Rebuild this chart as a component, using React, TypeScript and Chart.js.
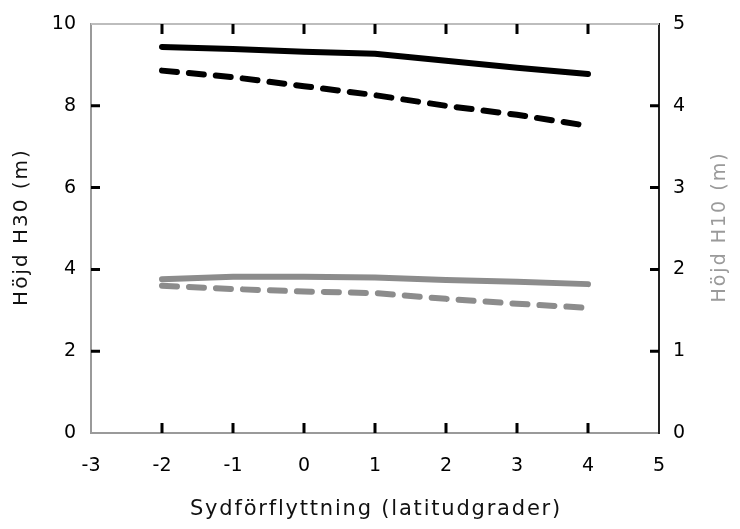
import React, { useEffect, useRef } from "react";
import { Chart, registerables } from "chart.js";

Chart.register(...registerables);

const latitudes = [-2, -1, 0, 1, 2, 3, 4];
const h30Solid = [9.44, 9.39, 9.32, 9.27, 9.1, 8.93, 8.78];
const h30Dashed = [8.86, 8.7, 8.48, 8.26, 8.0, 7.78, 7.51];
const h10Solid = [1.88, 1.91, 1.91, 1.9, 1.87, 1.85, 1.82];
const h10Dashed = [1.8, 1.76, 1.73, 1.71, 1.64, 1.58, 1.53];

const xTitle = "Sydförflyttning (latitudgrader)";
const yLeftTitle = "Höjd H30 (m)";
const yRightTitle = "Höjd H10 (m)";

const FONT = "'DejaVu Sans', sans-serif";

const pts = (vals: number[]) => latitudes.map((x, i) => ({ x, y: vals[i] }));

const decorPlugin = {
  id: "decor",
  afterDraw(chart: any) {
    const { ctx, chartArea } = chart;
    const { left, right, top, bottom } = chartArea;
    const xs = chart.scales.x;
    const yl = chart.scales.y;
    const yr = chart.scales.y2;
    ctx.save();
    // top frame line
    ctx.strokeStyle = "#bdbdbd";
    ctx.lineWidth = 2;
    ctx.beginPath();
    ctx.moveTo(left, top);
    ctx.lineTo(right, top);
    ctx.stroke();
    // inward tick marks
    ctx.strokeStyle = "#000";
    ctx.lineWidth = 3;
    ctx.beginPath();
    for (let v = -2; v <= 4; v++) {
      const px = xs.getPixelForValue(v);
      ctx.moveTo(px, bottom);
      ctx.lineTo(px, bottom - 10);
      ctx.moveTo(px, top);
      ctx.lineTo(px, top + 10);
    }
    for (let v = 2; v <= 8; v += 2) {
      const py = yl.getPixelForValue(v);
      ctx.moveTo(left, py);
      ctx.lineTo(left + 9, py);
    }
    for (let v = 1; v <= 4; v++) {
      const py = yr.getPixelForValue(v);
      ctx.moveTo(right, py);
      ctx.lineTo(right - 9, py);
    }
    ctx.stroke();

    // titles
    const midY = 219;
    ctx.textAlign = "center";
    ctx.textBaseline = "middle";
    ctx.fillStyle = "#111";
    ctx.font = `20px ${FONT}`;
    (ctx as any).letterSpacing = "2px";
    ctx.save();
    ctx.translate(14, midY);
    ctx.rotate(-Math.PI / 2);
    ctx.fillText(yLeftTitle, 0, 0);
    ctx.restore();

    ctx.fillStyle = "#9a9a9a";
    ctx.font = `19px ${FONT}`;
    ctx.save();
    ctx.translate(712, midY);
    ctx.rotate(-Math.PI / 2);
    ctx.fillText(yRightTitle, 0, 0);
    ctx.restore();

    ctx.fillStyle = "#111";
    ctx.font = `21px ${FONT}`;
    (ctx as any).letterSpacing = "1.8px";
    ctx.fillText(xTitle, 368, 502);
    ctx.restore();
  },
};

const noPad = (w: number) => (s: any) => {
  s.width = w;
  s.paddingTop = 0;
  s.paddingBottom = 0;
};

export default function App() {
  const ref = useRef<HTMLCanvasElement | null>(null);
  useEffect(() => {
    if (!ref.current) return;
    const tickFont = { family: FONT, size: 19 };
    const chart = new Chart(ref.current, {
      type: "line",
      data: {
        datasets: [
          {
            label: "H30",
            data: pts(h30Solid),
            borderColor: "#000",
            borderWidth: 6,
            pointRadius: 0,
            borderCapStyle: "round",
            yAxisID: "y",
          },
          {
            label: "H30 streckad",
            data: pts(h30Dashed),
            borderColor: "#000",
            borderWidth: 6,
            borderDash: [15, 12],
            borderCapStyle: "round",
            pointRadius: 0,
            yAxisID: "y",
          },
          {
            label: "H10",
            data: pts(h10Solid),
            borderColor: "#8c8c8c",
            borderWidth: 6,
            borderCapStyle: "round",
            pointRadius: 0,
            yAxisID: "y2",
          },
          {
            label: "H10 streckad",
            data: pts(h10Dashed),
            borderColor: "#8c8c8c",
            borderWidth: 6,
            borderDash: [15, 12],
            borderCapStyle: "round",
            pointRadius: 0,
            yAxisID: "y2",
          },
        ],
      },
      options: {
        animation: false,
        responsive: true,
        maintainAspectRatio: false,
        layout: { padding: { top: 16 } },
        plugins: { legend: { display: false }, tooltip: { enabled: false } },
        scales: {
          x: {
            type: "linear",
            position: "bottom",
            min: -3,
            max: 5,
            ticks: { stepSize: 1, color: "#000", font: tickFont, padding: 22 },
            grid: { display: false, drawTicks: false },
            border: { color: "#9a9a9a", width: 2 },
            afterFit: (s: any) => {
              s.height = 88;
            },
          },
          y: {
            type: "linear",
            position: "left",
            min: 0,
            max: 10,
            ticks: { stepSize: 2, color: "#000", font: tickFont, padding: 15 },
            grid: { display: false, drawTicks: false },
            border: { color: "#9a9a9a", width: 2 },
            afterFit: noPad(83),
          },
          y2: {
            type: "linear",
            position: "right",
            min: 0,
            max: 5,
            ticks: { stepSize: 1, color: "#000", font: tickFont, padding: 14 },
            grid: { display: false, drawTicks: false },
            border: { color: "#222", width: 2 },
            afterFit: noPad(73),
          },
        },
      },
      plugins: [decorPlugin],
    } as any);
    return () => chart.destroy();
  }, []);
  return (
    <div style={{ width: 724, height: 513, position: "relative" }}>
      <canvas ref={ref} />
    </div>
  );
}
